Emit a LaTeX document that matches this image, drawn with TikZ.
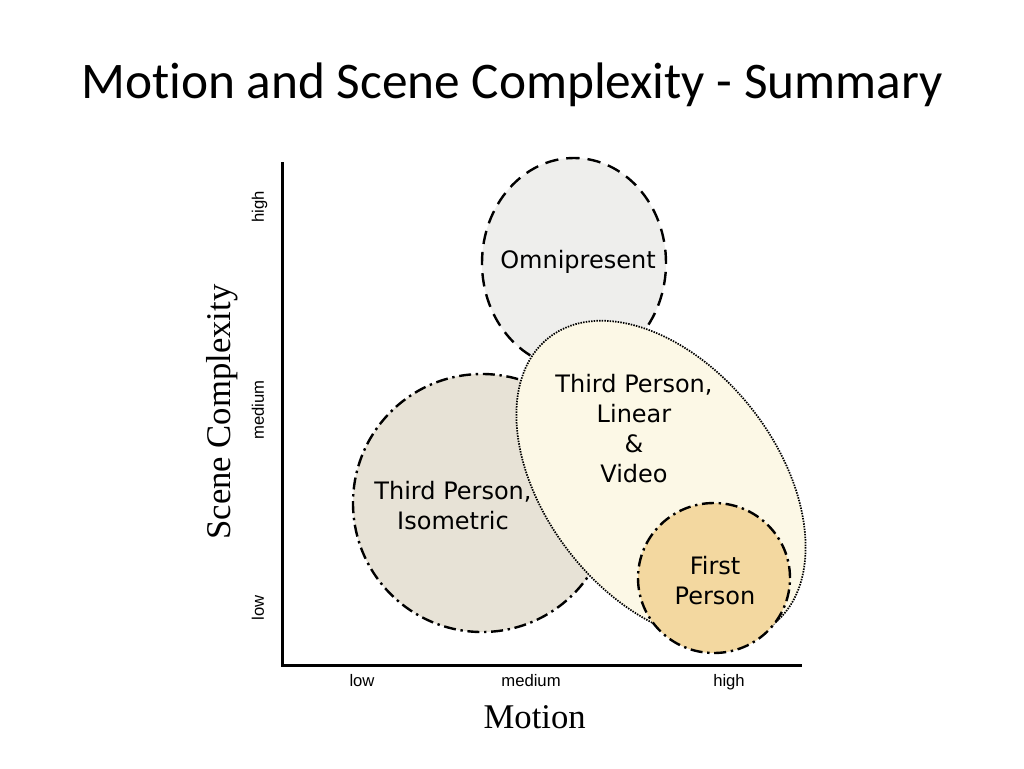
\documentclass[tikz,border=0pt]{standalone}
\usepackage{fontspec}
\setmainfont{Carlito}[Ligatures=NoCommon]
\newfontfamily\tickfont{Liberation Sans}
\newfontfamily\axisfont{Liberation Serif}
\newfontfamily\handfont{DejaVu Sans}
\usepackage{tikz}
\usetikzlibrary{shapes.geometric}
\definecolor{omnifill}{HTML}{EEEEEC}
\definecolor{isofill}{HTML}{E7E2D6}
\definecolor{linfill}{HTML}{FCF8E6}
\definecolor{firstfill}{HTML}{F3D8A0}
\tikzstyle{region} = [ellipse, inner sep=0pt, line width=1.8pt]
\tikzstyle{dashline} = [dash pattern=on 10pt off 6pt]
\tikzstyle{dashdotline} = [dash pattern=on 9pt off 3.5pt on 1.8pt off 3.5pt]
\tikzstyle{dotline} = [line width=1.3pt, dash pattern=on 1.1pt off 0.9pt]
\tikzstyle{hand} = [font=\handfont\fontsize{18}{22.5}\selectfont, align=center]
\tikzstyle{tick} = [font=\tickfont\fontsize{12.5}{14}\selectfont, text height=1.6ex, text depth=0.4ex]
\tikzstyle{axislabel} = [font=\axisfont\fontsize{26}{30}\selectfont]

\begin{document}
\begin{tikzpicture}
  \useasboundingbox[fill=white] (0pt, 0pt) rectangle (768pt, -576pt);
  \draw (384.0pt, -73.5pt)node[anchor=base, font=\fontsize{38.5}{44}\selectfont](title){Motion and Scene Complexity - Summary};
  % axes
  \coordinate (ytop) at (211.5pt, -121.5pt);
  \coordinate (xend) at (601.5pt, -498.75pt);
  \draw[line width=2.25pt] (ytop) |- (xend);
  \draw (195.0pt, -155.25pt)node[tick, rotate=90](yhigh){high};
  \draw (195.0pt, -307.5pt)node[tick, rotate=90](ymed){medium};
  \draw (195.0pt, -456.0pt)node[tick, rotate=90](ylow){low};
  \draw (271.5pt, -512.25pt)node[tick](xlow){low};
  \draw (398.25pt, -512.25pt)node[tick](xmed){medium};
  \draw (546.75pt, -512.25pt)node[tick](xhigh){high};
  \draw (166.5pt, -309.0pt)node[axislabel, rotate=90](scene){Scene Complexity};
  \draw (401.0pt, -546.0pt)node[axislabel, anchor=base](motion){Motion};
  % regions
  \draw (430.5pt, -197.25pt)node[region, dashline, draw, fill=omnifill, minimum width=138pt, minimum height=157.5pt](omni){};
  \draw (361.5pt, -377.25pt)node[region, dashdotline, draw, fill=isofill, minimum width=193.5pt, minimum height=193.5pt](iso){};
  \draw (495.75pt, -360.75pt)node[region, dotline, draw, fill=linfill, minimum width=273pt, minimum height=174pt, rotate=-52](lin){};
  \draw (535.5pt, -433.5pt)node[region, dashdotline, draw, fill=firstfill, minimum width=114pt, minimum height=112.5pt](first){};
  \draw (433.5pt, -196.5pt)node[hand](omnitext){Omnipresent};
  \draw (475.5pt, -321.75pt)node[hand](lintext){Third Person,\\Linear\\\&\\Video};
  \draw (339.75pt, -379.5pt)node[hand](isotext){Third Person,\\Isometric};
  \draw (536.25pt, -435.75pt)node[hand](firsttext){First\\Person};
\end{tikzpicture}
\end{document}
